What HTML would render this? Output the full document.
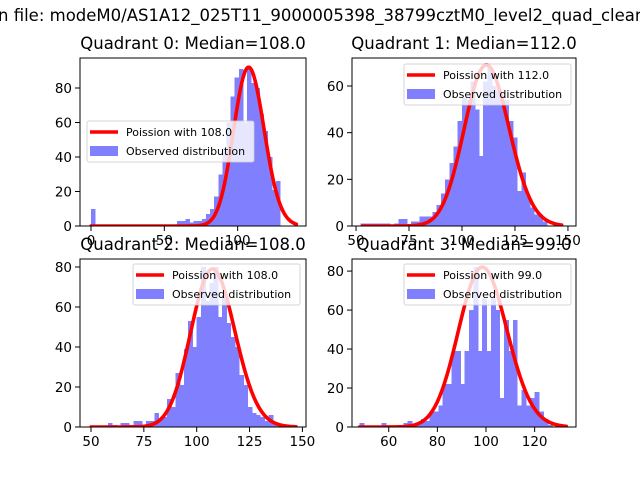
<!DOCTYPE html>
<html><head><meta charset="utf-8"><style>
html,body{margin:0;padding:0;background:#fff;}
svg{display:block;font-family:"DejaVu Sans","Liberation Sans",sans-serif;}
</style></head><body>
<svg id="fig" width="640" height="480" viewBox="0 0 640 480">
<rect width="640" height="480" fill="#fff"/>
<text x="-2" y="21" font-size="16.5" fill="#000">n file: modeM0/AS1A12_025T11_9000005398_38799cztM0_level2_quad_clean.evt</text>
</svg>
<script>
// ---- data ----
const q0Counts=[10,0,0,0,0,0,0,0,0,0,0,0,0,0,0,0,0,0,0,0,0,3,3,4,2,3,3,4,7,10,17,30,45,60,75,86,91,60,91,83,80,65,55,40,21,26];
const q1Counts=[1,1,1,1,1,1,1,0,1,3,3,0,2,2,4,4,4,6,9,14,20,27,34,45,55,54,62,50,30,62,68,60,58,54,54,45,38,15,23,13,8,5,5,2];
const q2Counts=[0,0,0,0,2,1,0,2,2,1,3,3,0,3,3,7,4,5,14,10,27,21,39,53,40,55,80,63,72,80,55,66,52,45,40,26,21,10,7,6,5,3,6,2,1];
const q3Counts=[2,0,0,0,0,2,0,0,0,0,2,3,1,2,4,3,8,8,11,22,22,39,39,22,39,60,82,39,66,39,66,60,15,55,39,55,11,19,11,15,18,8,4,1];
const binStarts=[0,52,50,48];
const binWidths=[2.8,2,2,1.8];
const medians=[108,112,108,99];
const curvePeaks=[92,69,79,82];
const curveRanges=[[0,140],[53,147],[50,147],[48,133]];
const titles=["Quadrant 0: Median=108.0","Quadrant 1: Median=112.0","Quadrant 2: Median=108.0","Quadrant 3: Median=99.0"];
const legendLabels=["Poission with 108.0","Poission with 112.0","Poission with 108.0","Poission with 99.0"];
const xTicks=[[0,50,100],[50,75,100,125,150],[50,75,100,125,150],[60,80,100,120]];
const yTicks=[[0,20,40,60,80],[0,20,40,60],[0,20,40,60,80],[0,20,40,60,80]];
const xDomains=[[-7.5,146.6],[48.1,153.8],[44.8,151.7],[44.9,137]];
const yDomains=[[0,97.4],[0,72],[0,84],[0,86.2]];
// ---- layout ----
const boxes=[{l:80,r:306,t:58,b:226},{l:352,r:576,t:58,b:226},{l:80,r:306,t:259,b:427},{l:352,r:576,t:259,b:427}];
const legendPos=[{x:87,y:121},{x:404,y:64},{x:133,y:264},{x:404,y:264}];
const allCounts=[q0Counts,q1Counts,q2Counts,q3Counts];
const NS="http://www.w3.org/2000/svg";
const svg=document.getElementById('fig');
function mk(tag,attrs,parent){const e=document.createElementNS(NS,tag);for(const k in attrs)e.setAttribute(k,attrs[k]);(parent||svg).appendChild(e);return e;}
function logPmf(k,lam){let lf=0;for(let i=2;i<=k;i++)lf+=Math.log(i);return k*Math.log(lam)-lam-lf;}
for(let q=0;q<4;q++){
  const B=boxes[q],xd=xDomains[q],yd=yDomains[q];
  const X=v=>B.l+(v-xd[0])/(xd[1]-xd[0])*(B.r-B.l);
  const Y=v=>B.b-(v-yd[0])/(yd[1]-yd[0])*(B.b-B.t);
  const g=mk('g',{});
  
  
  const clip=mk('clipPath',{id:'c'+q},g);mk('rect',{x:B.l,y:B.t,width:B.r-B.l,height:B.b-B.t},clip);
  const plot=mk('g',{'clip-path':'url(#c'+q+')'},g);
  const counts=allCounts[q];
  counts.forEach((c,i)=>{
    if(c<=0)return;
    const x0=binStarts[q]+i*binWidths[q];
    const r=mk('rect',{x:X(x0),y:Y(c),width:X(x0+binWidths[q])-X(x0)+0.6,height:Y(0)-Y(c),fill:'#8080ff','shape-rendering':'crispEdges'},plot);
    
    
  });
  const lam=medians[q];
  const amp=curvePeaks[q]/Math.exp(logPmf(Math.floor(lam),lam));
  let d='';
  for(let k=curveRanges[q][0];k<=curveRanges[q][1];k++){
    const v=amp*Math.exp(logPmf(k,lam));
    d+=(d?'L':'M')+X(k).toFixed(2)+','+Y(v).toFixed(2);
  }
  const p=mk('path',{d:d,fill:'none',stroke:'#ff0000','stroke-width':3.6,'stroke-linejoin':'round','stroke-linecap':'round'},plot);
  
  
  xTicks[q].forEach(t=>{
    const x=X(t);
    mk('line',{x1:x,x2:x,y1:B.b,y2:B.b+5,stroke:'#000','stroke-width':1},g);
    const tx=mk('text',{x:x,y:B.b+19,'font-size':13.5,'text-anchor':'middle',fill:'#000'},g);
    tx.textContent=t;
    
    
  });
  yTicks[q].forEach(t=>{
    const y=Y(t);
    mk('line',{x1:B.l-5,x2:B.l,y1:y,y2:y,stroke:'#000','stroke-width':1},g);
    const tx=mk('text',{x:B.l-8,y:y+5,'font-size':13.5,'text-anchor':'end',fill:'#000'},g);
    tx.textContent=t;
    
    
  });
  mk('rect',{x:B.l,y:B.t,width:B.r-B.l,height:B.b-B.t,fill:'none',stroke:'#000','stroke-width':1},g);
  const ti=mk('text',{x:(B.l+B.r)/2,y:B.t-9,'font-size':16.5,'text-anchor':'middle',fill:'#000'},g);
  ti.textContent=titles[q];
  
  
  const L=legendPos[q];
  const lg=mk('g',{},g);
  
  
  mk('rect',{x:L.x,y:L.y,width:167,height:41,rx:2,fill:'#fff','fill-opacity':0.8,stroke:'#ccc','stroke-opacity':0.8},lg);
  mk('line',{x1:L.x+3,x2:L.x+31,y1:L.y+11,y2:L.y+11,stroke:'#ff0000','stroke-width':3.6},lg);
  mk('rect',{x:L.x+3,y:L.y+25,width:28,height:10,fill:'#8080ff'},lg);
  const t1=mk('text',{x:L.x+39,y:L.y+15,'font-size':11,fill:'#000'},lg);t1.textContent=legendLabels[q];
  
  
  const t2=mk('text',{x:L.x+39,y:L.y+34,'font-size':11,fill:'#000'},lg);t2.textContent='Observed distribution';
  
  
}
</script>
</body></html>
